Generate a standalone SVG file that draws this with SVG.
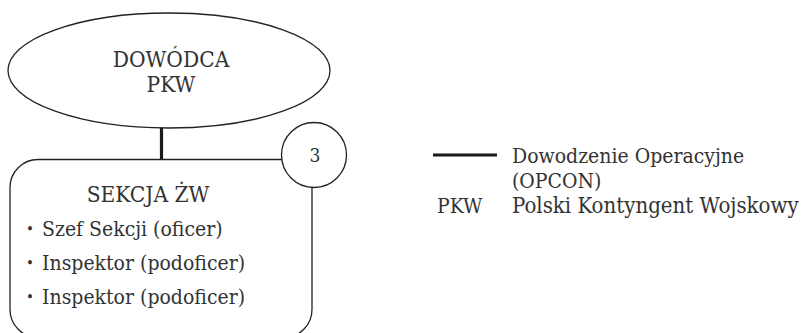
<svg xmlns="http://www.w3.org/2000/svg" width="803" height="333" viewBox="0 0 803 333">
<style>
.shape{fill:#fff;stroke:#222;stroke-width:1.3}
.opcon{stroke:#1a1a1a;stroke-width:3.2;fill:none}
.mid{text-anchor:middle}
.head{font-size:22.5px}
.bul{font-size:15px}
</style>
<rect width="803" height="333" fill="#fff"/>
<g font-family="DejaVu Serif Condensed, Liberation Serif, serif" font-size="21" fill="#333">
<g id="connectors">
<line class="opcon" x1="161.5" y1="128" x2="161.5" y2="160"/>
</g>
<g id="dowodca">
<ellipse class="shape" cx="169" cy="70.5" rx="161" ry="57.5"/>
<text class="mid head" x="171" y="67">DOWÓDCA</text>
<text class="mid head" x="171" y="92">PKW</text>
</g>
<g id="sekcja">
<rect class="shape" x="10" y="159.5" width="302" height="178" rx="28"/>
<text class="mid head" x="148" y="202">SEKCJA ŻW</text>
<text class="bul" x="26" y="234">•</text><text x="42" y="236">Szef Sekcji (oficer)</text>
<text class="bul" x="26" y="268">•</text><text x="42" y="270">Inspektor (podoficer)</text>
<text class="bul" x="26" y="302">•</text><text x="42" y="304">Inspektor (podoficer)</text>
</g>
<g id="badge">
<circle class="shape" cx="314" cy="155" r="32.5"/>
<text class="mid" x="315" y="162" font-size="19">3</text>
</g>
<g id="legend">
<line class="opcon" x1="433" y1="155" x2="497" y2="155"/>
<text x="512" y="163">Dowodzenie Operacyjne</text>
<text x="512" y="188">(OPCON)</text>
<text x="437" y="213">PKW</text>
<text x="512" y="213" font-size="22">Polski Kontyngent Wojskowy</text>
</g>
</g>
</svg>
